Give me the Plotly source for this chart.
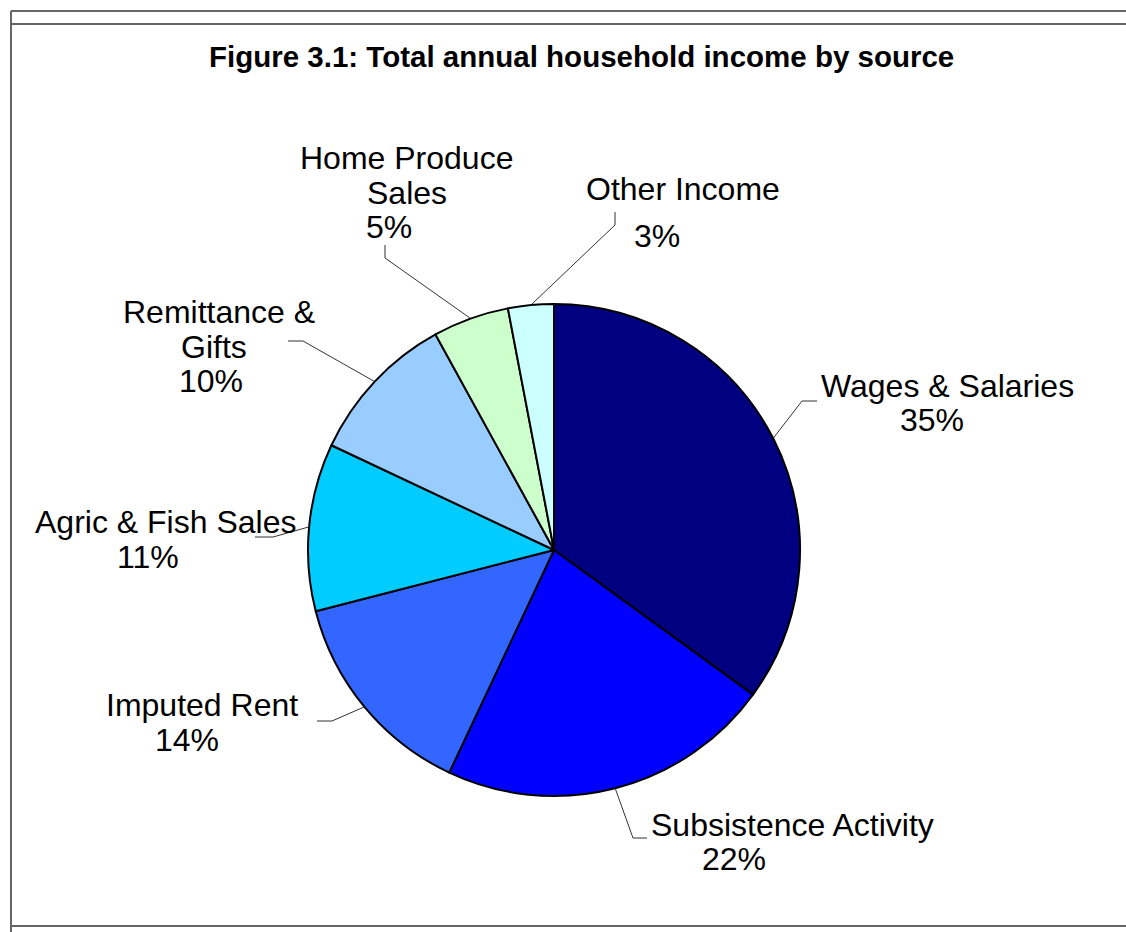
import math
import plotly.graph_objects as go

# Income sources and their share of total annual household income (%)
categories = [
    "Wages & Salaries",
    "Subsistence Activity",
    "Imputed Rent",
    "Agric & Fish Sales",
    "Remittance & Gifts",
    "Home Produce Sales",
    "Other Income",
]
shares = [35, 22, 14, 11, 10, 5, 3]
colors = ["#000080", "#0000FF", "#3366FF", "#00CCFF", "#99CCFF", "#CCFFCC", "#CCFFFF"]

title_text = "Figure 3.1: Total annual household income by source"

W, H = 1126, 932
FONT = "Arial, 'Liberation Sans', sans-serif"
LABEL_SIZE = 32

# Pie placement in pixels
CX, CY, R = 554, 550, 246

# Label placement (pixel centres of each text line) and leader-line elbows
name_lines = {
    "Remittance & Gifts": ["Remittance &", "Gifts"],
    "Home Produce Sales": ["Home Produce", "Sales"],
}
label_layout = {
    "Wages & Salaries": dict(name=[(947, 386)], pct=(932, 420), elbow=(802, 401), end=(817, 401)),
    "Subsistence Activity": dict(name=[(792, 825)], pct=(734, 859), elbow=(633, 838), end=(647, 838)),
    "Imputed Rent": dict(name=[(202, 705)], pct=(187, 740), elbow=(332, 721), end=(317, 721)),
    "Agric & Fish Sales": dict(name=[(165, 522)], pct=(148, 557), elbow=(273, 537), end=(255, 537)),
    "Remittance & Gifts": dict(name=[(219, 312), (214, 347)], pct=(211, 381), elbow=(303, 341), end=(288, 341)),
    "Home Produce Sales": dict(name=[(406, 158), (407, 193)], pct=(389, 227), elbow=(385, 258), end=(385, 245)),
    "Other Income": dict(name=[(683, 189)], pct=(657, 236), elbow=(615, 225), end=(615, 212)),
}


def px(x):
    return x / W


def py(y):
    return 1 - y / H


fig = go.Figure(
    go.Pie(
        labels=categories,
        values=shares,
        sort=False,
        direction="clockwise",
        rotation=0,
        textinfo="none",
        hoverinfo="label+percent",
        marker=dict(colors=colors, line=dict(color="#000000", width=2)),
        domain=dict(x=[px(CX - R), px(CX + R)], y=[py(CY + R), py(CY - R)]),
        showlegend=False,
    )
)

annotations = [
    dict(
        text=f"<b>{title_text}</b>", x=px(581), y=py(57), xref="paper", yref="paper",
        xanchor="center", yanchor="middle", showarrow=False,
        font=dict(family=FONT, size=29.5, color="#000000"),
    )
]
shapes = []

# Frame around the chart area
frame_col = "#666666"
for yy in (11, 24, 926):
    shapes.append(dict(type="line", xref="paper", yref="paper", x0=px(11), x1=1,
                       y0=py(yy), y1=py(yy), line=dict(color=frame_col, width=2)))
shapes.append(dict(type="line", xref="paper", yref="paper", x0=px(11), x1=px(11),
                   y0=py(11), y1=0, line=dict(color=frame_col, width=2)))

total = sum(shares)
cum = 0.0
for cat, val in zip(categories, shares):
    mid = (cum + val / 2) / total * 2 * math.pi
    cum += val
    ex = CX + R * math.sin(mid)
    ey = CY - R * math.cos(mid)
    lay = label_layout[cat]
    lines = name_lines.get(cat, [cat])
    for txt, (lx, ly) in zip(lines, lay["name"]):
        annotations.append(dict(
            text=txt, x=px(lx), y=py(ly), xref="paper", yref="paper",
            xanchor="center", yanchor="middle", showarrow=False,
            font=dict(family=FONT, size=LABEL_SIZE, color="#000000"),
        ))
    annotations.append(dict(
        text=f"{val}%", x=px(lay["pct"][0]), y=py(lay["pct"][1]), xref="paper", yref="paper",
        xanchor="center", yanchor="middle", showarrow=False,
        font=dict(family=FONT, size=LABEL_SIZE, color="#000000"),
    ))
    bx, by = lay["elbow"]
    tx, ty = lay["end"]
    path = f"M {px(ex)} {py(ey)} L {px(bx)} {py(by)} L {px(tx)} {py(ty)}"
    shapes.append(dict(type="path", xref="paper", yref="paper", path=path,
                       line=dict(color="#333333", width=1)))

fig.update_layout(
    width=W, height=H,
    margin=dict(l=0, r=0, t=0, b=0),
    paper_bgcolor="#FFFFFF",
    plot_bgcolor="#FFFFFF",
    annotations=annotations,
    shapes=shapes,
)

fig.write_html("out.html")
